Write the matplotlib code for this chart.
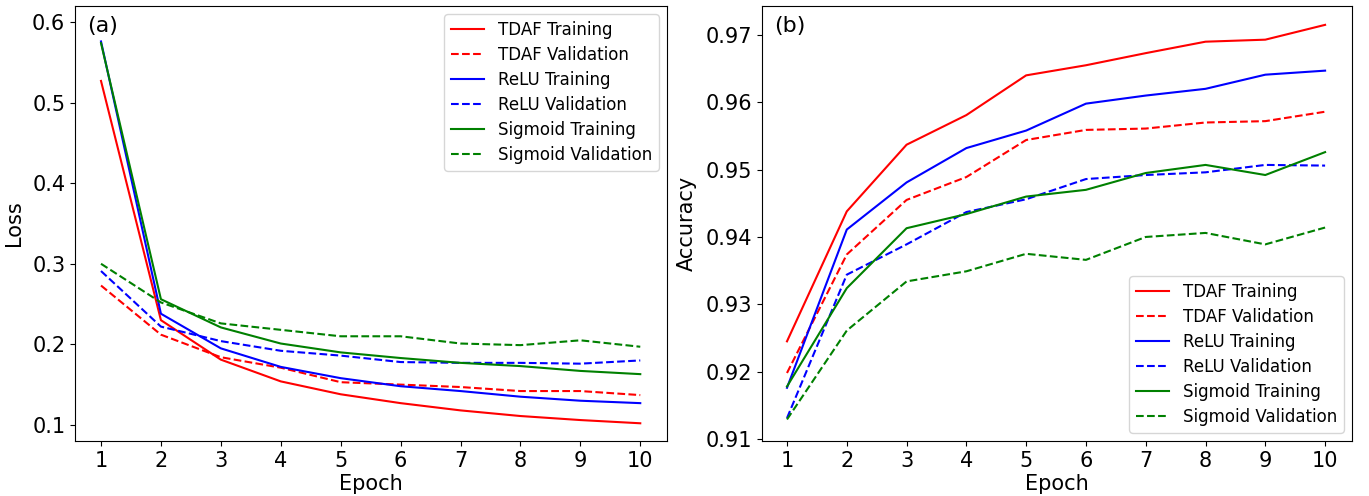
import matplotlib
matplotlib.use("Agg")
import matplotlib.pyplot as plt

epochs = list(range(1, 11))

# loss curves, panel (a)
tdaf_train_loss = [0.527, 0.230, 0.181, 0.154, 0.138, 0.127, 0.118, 0.111, 0.106, 0.102]
tdaf_val_loss = [0.273, 0.212, 0.184, 0.171, 0.153, 0.150, 0.147, 0.142, 0.142, 0.137]
relu_train_loss = [0.576, 0.238, 0.195, 0.172, 0.158, 0.148, 0.142, 0.135, 0.130, 0.127]
relu_val_loss = [0.291, 0.222, 0.204, 0.192, 0.186, 0.178, 0.177, 0.177, 0.176, 0.180]
sig_train_loss = [0.574, 0.256, 0.221, 0.201, 0.190, 0.183, 0.177, 0.173, 0.167, 0.163]
sig_val_loss = [0.300, 0.252, 0.226, 0.218, 0.210, 0.210, 0.201, 0.199, 0.205, 0.197]

# accuracy curves, panel (b)
tdaf_train_acc = [0.9245, 0.9438, 0.9537, 0.9581, 0.9640, 0.9655, 0.9673, 0.9690, 0.9693, 0.9715]
tdaf_val_acc = [0.9198, 0.9374, 0.9455, 0.9489, 0.9544, 0.9559, 0.9561, 0.9570, 0.9572, 0.9586]
relu_train_acc = [0.9176, 0.9411, 0.9481, 0.9532, 0.9558, 0.9598, 0.9610, 0.9620, 0.9641, 0.9647]
relu_val_acc = [0.9131, 0.9344, 0.9389, 0.9437, 0.9456, 0.9486, 0.9492, 0.9496, 0.9507, 0.9506]
sig_train_acc = [0.9178, 0.9324, 0.9413, 0.9434, 0.9460, 0.9470, 0.9495, 0.9507, 0.9492, 0.9526]
sig_val_acc = [0.9129, 0.9261, 0.9334, 0.9349, 0.9375, 0.9366, 0.9400, 0.9406, 0.9389, 0.9414]

labels = ["TDAF Training", "TDAF Validation", "ReLU Training",
          "ReLU Validation", "Sigmoid Training", "Sigmoid Validation"]
colors = ["red", "red", "blue", "blue", "green", "green"]
styles = ["-", "--", "-", "--", "-", "--"]

fig = plt.figure(figsize=(13.69, 4.96), dpi=100)
ax1 = fig.add_axes([75 / 1369, 1 - 441 / 496, (667 - 75) / 1369, (441 - 6) / 496])
ax2 = fig.add_axes([762 / 1369, 1 - 441 / 496, (1352 - 762) / 1369, (441 - 6) / 496])

loss_series = [tdaf_train_loss, tdaf_val_loss, relu_train_loss,
               relu_val_loss, sig_train_loss, sig_val_loss]
acc_series = [tdaf_train_acc, tdaf_val_acc, relu_train_acc,
              relu_val_acc, sig_train_acc, sig_val_acc]

for ys, lab, c, ls in zip(loss_series, labels, colors, styles):
    ax1.plot(epochs, ys, color=c, linestyle=ls, label=lab, linewidth=1.5)
for ys, lab, c, ls in zip(acc_series, labels, colors, styles):
    ax2.plot(epochs, ys, color=c, linestyle=ls, label=lab, linewidth=1.5)

for ax in (ax1, ax2):
    ax.set_xticks(epochs)
    ax.set_xlabel("Epoch", fontsize=15, labelpad=2)
    ax.tick_params(labelsize=15)

ax1.set_ylabel("Loss", fontsize=15, labelpad=6)
ax2.set_ylabel("Accuracy", fontsize=15, labelpad=6)
ax1.set_ylim(0.080, 0.620)
ax1.set_yticks([0.1, 0.2, 0.3, 0.4, 0.5, 0.6])
ax2.set_ylim(0.9097, 0.9743)
ax2.set_yticks([0.91, 0.92, 0.93, 0.94, 0.95, 0.96, 0.97])
ax1.set_xlim(0.566, 10.446)
ax2.set_xlim(0.582, 10.45)

ax1.text(0.02, 0.978, "(a)", transform=ax1.transAxes, fontsize=16, va="top")
ax2.text(0.02, 0.978, "(b)", transform=ax2.transAxes, fontsize=16, va="top")

ax1.legend(loc="upper right", fontsize=12, labelspacing=0.42)
ax2.legend(loc="lower right", fontsize=12, labelspacing=0.42)

fig.savefig("out.png", dpi=100)
